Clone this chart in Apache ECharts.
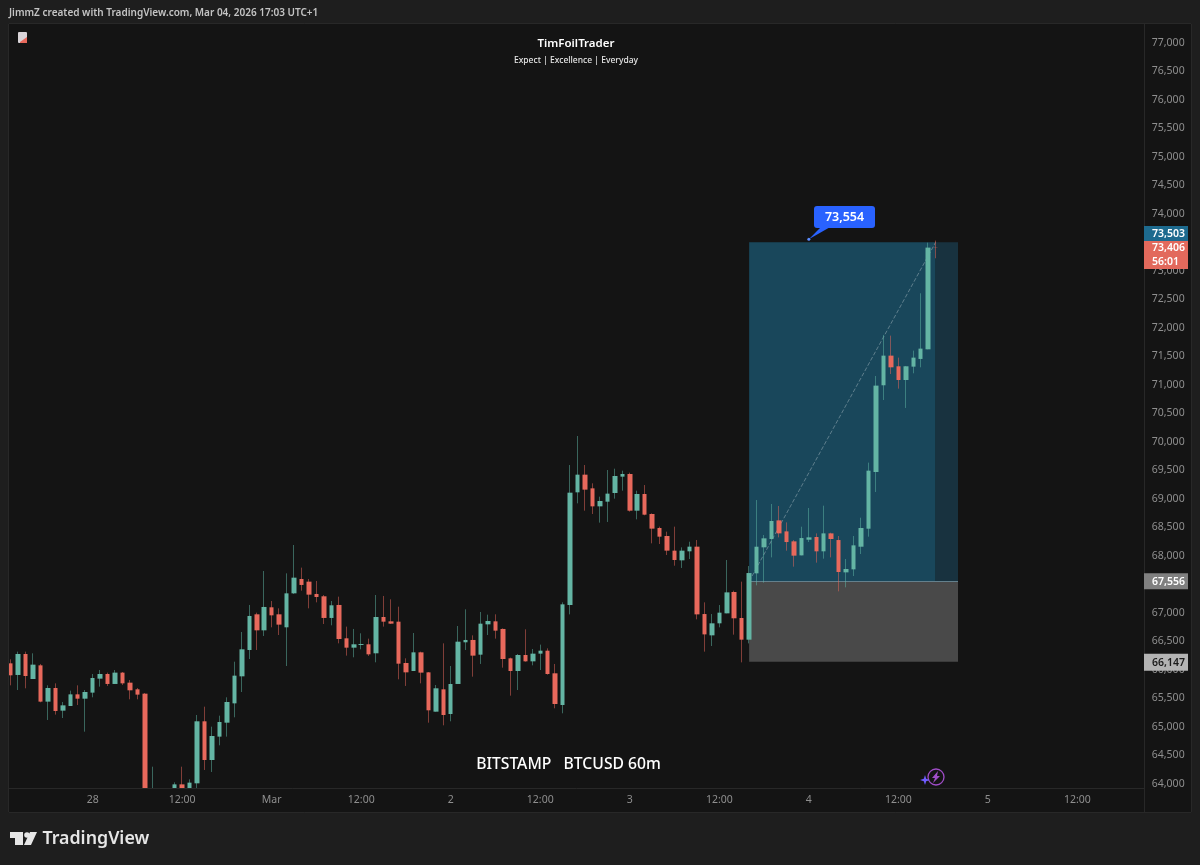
<!DOCTYPE html>
<html>
<head>
<meta charset="utf-8">
<title>BTCUSD 60m</title>
<script src="https://cdn.jsdelivr.net/npm/echarts@6/dist/echarts.min.js"></script>
<style>
html, body { margin: 0; padding: 0; background: #1e1e1e; }
#chart { width: 1200px; height: 865px; }
</style>
</head>
<body>
<div id="chart"></div>
<script>
// hourly candles, first one is Feb 27 13:00
var opens = [
    66117, 65913, 66281, 65842, 66082, 65445, 65684, 65287, 65369, 65573,
    65497, 65603, 65848, 65930, 65755, 65954, 65778, 65661, 65585, 63600,
    63750, 63600, 63780, 63994, 63800, 64012, 65100, 64421, 64831, 65076,
    65415, 65889, 66351, 66977, 66696, 67100, 66977, 66749, 67345, 67597,
    67550, 67334, 67293, 66913, 67141, 66556, 66392, 66439, 66451, 66293,
    66930, 66854, 66848, 66123, 65983, 66310, 65959, 65269, 65661, 65228,
    65755, 66486, 66527, 66269, 66801, 66854, 66720, 66205, 65983, 66263,
    66152, 66287, 66339, 65942, 65386, 67140, 69117, 69427, 69187, 68871,
    68953, 69105, 69392, 69439, 68795, 69088, 68737, 68491, 68351, 68094,
    67924, 68082, 68164, 66982, 66608, 66819, 66994, 67369, 66912, 66532,
    67696, 68152, 68298, 68625, 68432, 68257, 68011, 68286, 68333, 68082,
    68397, 68280, 67713, 67766, 68163, 68479, 69474, 70995, 71515, 71328,
    71088, 71322, 71457, 71626, 73410
];
var closes = [
    65907, 66281, 65895, 66094, 65445, 65684, 65281, 65380, 65573, 65497,
    65614, 65860, 65930, 65755, 65954, 65766, 65644, 65568, 63650, 63750,
    63600, 63780, 63994, 63800, 64024, 65100, 64421, 64842, 65088, 65439,
    65901, 66363, 66948, 66696, 67106, 66959, 66796, 67345, 67620, 67492,
    67322, 67281, 66913, 67135, 66544, 66392, 66451, 66456, 66275, 66930,
    66848, 66813, 66111, 65959, 66310, 65954, 65293, 65679, 65211, 65755,
    66497, 66527, 66252, 66813, 66860, 66690, 66193, 65983, 66263, 66152,
    66287, 66339, 65930, 65404, 67152, 69111, 69427, 69164, 68871, 68965,
    69094, 69404, 69439, 68795, 69088, 68725, 68480, 68339, 68094, 67930,
    68094, 68164, 66976, 66625, 66819, 67006, 67362, 66907, 66532, 67701,
    68163, 68310, 68614, 68397, 68245, 68006, 68315, 68327, 68082, 68397,
    68298, 67719, 67772, 68187, 68491, 69497, 70989, 71515, 71310, 71088,
    71328, 71480, 71638, 73410, 73406
];
var highs = [
    66187, 66322, 66322, 66293, 66106, 65731, 65766, 65439, 65638, 65731,
    65649, 65930, 66000, 65954, 66000, 65965, 65825, 65684, 65597, 64304,
    63850, 63850, 64030, 64304, 64082, 65211, 65357, 65006, 65199, 65521,
    66146, 66667, 67141, 67006, 67737, 67211, 67082, 67696, 68193, 67796,
    67597, 67562, 67316, 67211, 67287, 66761, 66720, 66644, 66550, 67316,
    67299, 67240, 67111, 66205, 66649, 66322, 65965, 65737, 66468, 66070,
    66772, 67065, 66608, 67018, 66971, 66977, 66731, 66217, 66281, 66714,
    66369, 66445, 66380, 66106, 67187, 69596, 70105, 69596, 69275, 69041,
    69509, 69532, 69497, 69462, 69146, 69245, 68748, 68515, 68427, 68515,
    68152, 68251, 68281, 67187, 66982, 67140, 67930, 67392, 67550, 67824,
    68982, 68368, 68912, 68877, 68590, 68280, 68514, 68842, 68397, 68883,
    68409, 68351, 67947, 68351, 68672, 69638, 71158, 71878, 71866, 71480,
    71334, 71603, 72609, 73497, 73533
];
var lows = [
    65731, 65649, 65679, 65842, 65433, 65123, 65217, 65158, 65369, 65386,
    64918, 65521, 65708, 65720, 65755, 65737, 65486, 65486, 63550, 63500,
    63500, 63500, 63700, 63720, 63750, 63924, 64246, 64211, 64679, 64831,
    65170, 65614, 66193, 66351, 66597, 66749, 66614, 66070, 67334, 67392,
    67082, 67187, 66807, 66784, 66468, 66252, 66223, 66363, 66246, 66135,
    66761, 66807, 65837, 65720, 65983, 65766, 65076, 65269, 65030, 65100,
    65755, 66351, 65883, 66106, 66614, 66550, 66041, 65550, 65649, 66146,
    66082, 66000, 65918, 65328, 65240, 66976, 68924, 68795, 68737, 68585,
    68597, 69006, 69146, 68778, 68643, 68714, 68222, 68210, 68017, 67830,
    67790, 67947, 66889, 66322, 66421, 66749, 66994, 66620, 66134, 66467,
    67485, 67532, 67976, 68327, 68093, 67813, 68011, 68245, 67883, 67953,
    67976, 67380, 67450, 67649, 68035, 68339, 69123, 70737, 71193, 70936,
    70597, 71205, 71310, 71626, 73223
];

// x labels, one every 12 candles starting at candle 11
var xTickLabels = ['28', '12:00', 'Mar', '12:00', '2', '12:00', '3', '12:00', '4', '12:00', '5', '12:00'];
var yTicks = [64000, 64500, 65000, 65500, 66000, 66500, 67000, 67500, 68000, 68500, 69000, 69500, 70000,
    70500, 71000, 71500, 72000, 72500, 73000, 73500, 74000, 74500, 75000, 75500, 76000, 76500, 77000];

// long position tool
var entryPrice = 67556;
var targetPrice = 73503;
var stopPrice = 66147;
var lastPrice = 73406;
var calloutPrice = 73554;
var countdown = '56:01';
var entryIndex = 99;
var nowIndex = 124;
var endIndex = 127;

var slotCount = 152;
var categories = [];
for (var i = 0; i < slotCount; i++) {
    categories.push((i - 11) % 12 === 0 && i >= 11 ? xTickLabels[(i - 11) / 12] : '');
}

var wickData = opens.map(function(o, i) {
    return [o, closes[i], lows[i], highs[i]];
});
// the bodies go in a second series because the wicks are fainter than the bodies
var bodyData = opens.map(function(o, i) {
    return [o, closes[i], Math.min(o, closes[i]), Math.max(o, closes[i])];
});

function price(v) {
    return v.toLocaleString('en-US');
}

var axisFont = '"Noto Sans", sans-serif';
var bgColor = '#1e1e1e';
var panelColor = '#141414';
var lineColor = '#282828';

var myChart = echarts.init(document.getElementById('chart'), null, { renderer: 'canvas' });

var option = {
    animation: false,
    backgroundColor: bgColor,
    grid: {
        left: 6.87,
        top: 24,
        width: 1133.92,
        height: 764
    },
    xAxis: {
        type: 'category',
        z: 12,
        data: categories,
        boundaryGap: true,
        axisLine: { show: false },
        axisTick: { show: false },
        splitLine: { show: false },
        axisLabel: {
            interval: 0,
            color: '#8f8f8f',
            fontFamily: axisFont,
            fontSize: 10.5,
            margin: 7
        }
    },
    yAxis: {
        type: 'value',
        position: 'right',
        min: 63930,
        max: 77333,
        axisLine: { show: false },
        axisTick: { show: false },
        splitLine: { show: false },
        axisLabel: {
            customValues: yTicks,
            color: '#8f8f8f',
            fontFamily: axisFont,
            fontSize: 10.5,
            margin: 11,
            align: 'left',
            formatter: function(v) {
                return price(v);
            }
        }
    },
    series: [{
        name: 'wicks',
        type: 'candlestick',
        z: 3,
        barWidth: 1,
        data: wickData,
        itemStyle: {
            color: 'rgba(96,184,166,0.5)',
            color0: 'rgba(236,104,92,0.5)',
            borderColor: 'rgba(96,184,166,0.5)',
            borderColor0: 'rgba(236,104,92,0.5)',
            borderWidth: 1
        },
        markArea: {
            silent: true,
            z: 1,
            data: [
                [{ xAxis: entryIndex, yAxis: targetPrice, itemStyle: { color: '#19475b' } }, { xAxis: nowIndex, yAxis: entryPrice }],
                [{ xAxis: nowIndex, yAxis: targetPrice, itemStyle: { color: '#18323f' } }, { xAxis: endIndex, yAxis: entryPrice }],
                [{ xAxis: entryIndex, yAxis: entryPrice, itemStyle: { color: '#494949' } }, { xAxis: endIndex, yAxis: stopPrice }]
            ]
        },
        markLine: {
            silent: true,
            z: 2,
            symbol: 'none',
            label: { show: false },
            data: [
                [{ xAxis: entryIndex, yAxis: entryPrice, lineStyle: { color: 'rgba(255,255,255,0.3)', type: 'dashed', width: 1 } },
                    { xAxis: nowIndex, yAxis: targetPrice }],
                [{ xAxis: entryIndex, yAxis: entryPrice, lineStyle: { color: '#64808c', type: 'solid', width: 1 } },
                    { xAxis: endIndex, yAxis: entryPrice }]
            ]
        }
    }, {
        name: 'bodies',
        type: 'candlestick',
        z: 4,
        barWidth: 5,
        data: bodyData,
        itemStyle: {
            color: '#64b5a4',
            color0: '#e8695c',
            borderColor: '#64b5a4',
            borderColor0: '#e8695c',
            borderWidth: 0
        }
    }]
};
myChart.setOption(option);

function tag(x, y, w, h, fill, text, textFill) {
    return [{
        type: 'rect', z: 20,
        shape: { x: x, y: y, width: w, height: h },
        style: { fill: fill }
    }, {
        type: 'text', z: 21,
        x: x + 8, y: y + h / 2 + 0.5,
        style: { text: text, fill: textFill, font: '600 10.5px ' + axisFont, textVerticalAlign: 'middle' }
    }];
}

function plainText(x, y, text, fill, font, align) {
    return {
        type: 'text', z: 21, x: x, y: y,
        style: { text: text, fill: fill, font: font, textAlign: align || 'left', textVerticalAlign: 'middle' }
    };
}

function hLine(x1, x2, y) {
    return { type: 'line', z: 10, shape: { x1: x1, y1: y, x2: x2, y2: y }, style: { stroke: lineColor, lineWidth: 1 } };
}
function vLine(x, y1, y2) {
    return { type: 'line', z: 10, shape: { x1: x, y1: y1, x2: x, y2: y2 }, style: { stroke: lineColor, lineWidth: 1 } };
}

// the tags, the frame and the captions sit on top of the plot
var entryY = myChart.convertToPixel({ yAxisIndex: 0 }, entryPrice);
var stopY = myChart.convertToPixel({ yAxisIndex: 0 }, stopPrice);
var calloutTip = myChart.convertToPixel({ xAxisIndex: 0, yAxisIndex: 0 }, [107, targetPrice]);

var elements = [
    { type: 'rect', z: -1, shape: { x: 9, y: 24, width: 1182, height: 788 }, style: { fill: panelColor } },
    // candlesticks only get dropped when fully outside the grid, so cover what hangs over the edges
    { type: 'rect', z: 9, shape: { x: 0, y: 24, width: 9, height: 788 }, style: { fill: bgColor } },
    { type: 'rect', z: 9, shape: { x: 9, y: 788, width: 1135, height: 24 }, style: { fill: panelColor } },
    hLine(9, 1191, 23.5), hLine(9, 1191, 812.5), hLine(9, 1144, 788.5),
    vLine(8.5, 24, 812), vLine(1144.5, 24, 812), vLine(1191.5, 24, 812),

    plainText(9, 13.5, 'JimmZ created with TradingView.com, Mar 04, 2026 17:03 UTC+1', '#c4c4c4', '600 10px "Noto Sans", sans-serif'),
    plainText(576, 44, 'TimFoilTrader', '#ffffff', '600 11.5px "Noto Sans", sans-serif', 'center'),
    plainText(576, 61, 'Expect | Excellence | Everyday', '#e6e6e6', '500 8.5px "Noto Sans", sans-serif', 'center'),
    plainText(568.5, 765, 'BITSTAMP   BTCUSD 60m', '#ffffff', '500 15.7px "Noto Sans", sans-serif', 'center'),

    // small note icon top left
    { type: 'rect', z: 21, shape: { x: 18, y: 32, width: 9, height: 11, r: 1 }, style: { fill: '#d9d4d8' } },
    { type: 'polygon', z: 22, shape: { points: [[20, 42], [27, 37], [27, 43], [20, 43]] }, style: { fill: '#e8695c' } },

    // callout
    { type: 'polygon', z: 21, shape: { points: [[calloutTip[0], calloutTip[1] - 3], [822, 226], [832, 226]] }, style: { fill: '#2962ff' } },
    { type: 'rect', z: 21, shape: { x: 814, y: 206, width: 61, height: 22, r: 3 }, style: { fill: '#2962ff' } },
    { type: 'circle', z: 21, shape: { cx: calloutTip[0], cy: calloutTip[1] - 3, r: 1.5 }, style: { fill: '#5b8cff' } },
    plainText(844.5, 217.5, price(calloutPrice), '#ffffff', '600 12.5px "Noto Sans", sans-serif', 'center'),

    // lightning badge
    { type: 'circle', z: 21, shape: { cx: 936, cy: 777, r: 8 }, style: { fill: 'none', stroke: '#a04dc8', lineWidth: 1.3 } },
    { type: 'polygon', z: 22, shape: { points: [[938, 771], [932, 778], [935, 778], [933, 783], [940, 776], [937, 776]] }, style: { fill: '#a04dc8' } },
    { type: 'polygon', z: 22, shape: { points: [[925, 775], [926.2, 778.8], [930, 780], [926.2, 781.2], [925, 785], [923.8, 781.2], [920, 780], [923.8, 778.8]] }, style: { fill: '#6f5cff' } },

    // logo
    { type: 'polygon', z: 21, shape: { points: [[10, 832], [23, 832], [23, 845], [15, 845], [15, 838], [10, 838]] }, style: { fill: '#e6e6e6' } },
    { type: 'circle', z: 21, shape: { cx: 27, cy: 835, r: 2.8 }, style: { fill: '#e6e6e6' } },
    { type: 'polygon', z: 21, shape: { points: [[30, 832], [37, 832], [31, 845], [24, 845]] }, style: { fill: '#e6e6e6' } },
    plainText(42.5, 839, 'TradingView', '#e6e6e6', '600 17.8px "Noto Sans", sans-serif')
];

elements = elements
    .concat(tag(1144, 226, 44, 15, '#1d6a8e', price(targetPrice), '#ffffff'))
    .concat(tag(1144, 241, 44, 14, '#e2695c', price(lastPrice), '#ffffff'))
    .concat(tag(1144, 255, 44, 14, '#e2695c', countdown, '#ffffff'))
    .concat(tag(1144, entryY - 8, 44, 16, '#808080', price(entryPrice), '#ffffff'))
    .concat(tag(1144, stopY - 8, 44, 17, '#b3b3b3', price(stopPrice), '#1a1a1a'));

myChart.setOption({ graphic: { elements: elements } });

window.addEventListener('resize', function() {
    myChart.resize();
});
</script>
</body>
</html>
